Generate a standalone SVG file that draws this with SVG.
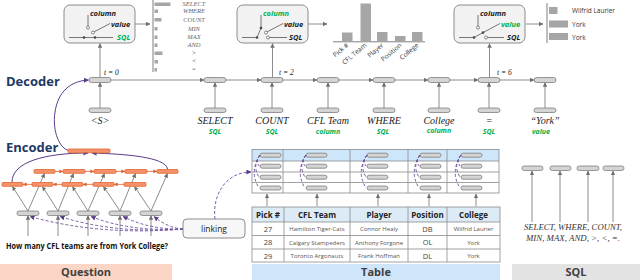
<svg xmlns="http://www.w3.org/2000/svg" width="640" height="280" viewBox="0 0 640 280">
<defs>
<marker id="ag" viewBox="0 0 6 6" refX="5.5" refY="3" markerWidth="4.5" markerHeight="4.5" markerUnits="userSpaceOnUse" orient="auto"><path d="M0,0 L6,3 L0,6 z" fill="#6f6f6f"/></marker>
<marker id="ap" viewBox="0 0 6 6" refX="5.5" refY="3" markerWidth="5" markerHeight="5" markerUnits="userSpaceOnUse" orient="auto"><path d="M0,0 L6,3 L0,6 z" fill="#5a3d8a"/></marker>
<marker id="ao" viewBox="0 0 6 6" refX="5.5" refY="3" markerWidth="4" markerHeight="4" markerUnits="userSpaceOnUse" orient="auto"><path d="M0,0 L6,3 L0,6 z" fill="#e0642e"/></marker>
</defs>
<style>
.cell{fill:#d4d4d4;stroke:#7f7f7f;stroke-width:0.8}
.oc{fill:#f5926b;stroke:#e0642e;stroke-width:0.8}
.ln{stroke:#7f7f7f;stroke-width:0.9;fill:none}
.la{stroke:#7f7f7f;stroke-width:0.9;fill:none;marker-end:url(#ag)}
.ol{stroke:#e0642e;stroke-width:0.8;fill:none;marker-end:url(#ao)}
.pc{stroke:#5a3d8a;stroke-width:1;fill:none;marker-end:url(#ap)}
.pd{stroke:#6a4c9c;stroke-width:0.9;fill:none;stroke-dasharray:3 2}
.pda{stroke:#6a4c9c;stroke-width:0.9;fill:none;stroke-dasharray:3 2;marker-end:url(#ap)}
.box{fill:#f2f2f2;stroke:#7f7f7f;stroke-width:0.9}
.sw{stroke:#555;stroke-width:0.8;fill:none}
.oh{fill:#fff;stroke:#555;stroke-width:0.7}
.dt{fill:#444}
.bar{fill:#a6a6a6}
.swt{font-family:'Open Sans','Liberation Sans',sans-serif;font-weight:bold;font-style:italic;font-size:7.5px;fill:#222}
.grn{fill:#00b050}
.ms{font-family:'Liberation Serif',serif;font-style:italic;font-size:6.5px;fill:#666}
.tk{font-family:'Liberation Serif',serif;font-style:italic;font-size:10px;fill:#222;text-anchor:middle}
.tl{font-family:'Open Sans','Liberation Sans',sans-serif;font-weight:bold;font-style:italic;font-size:7px;fill:#00b050;text-anchor:middle}
.tt{font-family:'Liberation Serif',serif;font-style:italic;font-size:7.5px;fill:#222}
.hd{font-family:'Open Sans','Liberation Sans',sans-serif;font-weight:bold;font-size:13px;fill:#203864}
.sm{font-family:'Open Sans','Liberation Sans',sans-serif;font-size:6.5px;fill:#333}
.th{font-family:'Open Sans','Liberation Sans',sans-serif;font-weight:bold;font-size:8px;fill:#222;text-anchor:middle}
.td{font-family:'Open Sans','Liberation Sans',sans-serif;font-size:6px;fill:#555;text-anchor:middle}
.tn{font-family:'Open Sans','Liberation Sans',sans-serif;font-size:7.5px;fill:#444;text-anchor:middle}
.tbl{stroke:#8a8a8a;stroke-width:0.8;fill:none}
.bl{font-family:'Open Sans','Liberation Sans',sans-serif;font-weight:bold;font-size:11px;fill:#404040;text-anchor:middle}
</style>
<rect width="640" height="280" fill="#fff"/>

<!-- section labels -->
<text class="hd" x="6" y="86">Decoder</text>
<text class="hd" x="6" y="152">Encoder</text>

<!-- bottom bars -->
<g id="question-bar"><rect x="0" y="264" width="172" height="16" fill="#fbd5c5"/><text class="bl" x="86" y="276">Question</text></g>
<g id="table-bar"><rect x="252" y="264" width="248" height="16" fill="#cfe5fa"/><text class="bl" x="376" y="276">Table</text></g>
<g id="sql-bar"><rect x="512" y="264" width="128" height="16" fill="#e3e3e3"/><text class="bl" x="576" y="276">SQL</text></g>

<!-- connectors -->
<g id="connectors">
  <!-- decoder chain -->
  <line class="la" x1="111" y1="80" x2="204" y2="80"/>
  <line class="la" x1="226" y1="80" x2="261" y2="80"/>
  <line class="la" x1="283" y1="80" x2="317" y2="80"/>
  <line class="la" x1="339" y1="80" x2="373" y2="80"/>
  <line class="la" x1="395" y1="80" x2="428" y2="80"/>
  <line class="la" x1="450" y1="80" x2="478" y2="80"/>
  <line class="la" x1="500" y1="80" x2="534" y2="80"/>
  <!-- inputs up -->
  <line class="la" x1="100" y1="108" x2="100" y2="82.5"/>
  <line class="la" x1="215" y1="108" x2="215" y2="82.5"/>
  <line class="la" x1="272" y1="108" x2="272" y2="82.5"/>
  <line class="la" x1="328" y1="108" x2="328" y2="82.5"/>
  <line class="la" x1="384" y1="108" x2="384" y2="82.5"/>
  <line class="la" x1="439" y1="108" x2="439" y2="82.5"/>
  <line class="la" x1="489" y1="108" x2="489" y2="82.5"/>
  <line class="la" x1="545" y1="108" x2="545" y2="82.5"/>
  <!-- to switch boxes -->
  <line class="la" x1="100" y1="77.5" x2="100" y2="43.5"/>
  <line class="la" x1="272.5" y1="77.5" x2="272.5" y2="43.5"/>
  <line class="la" x1="489.5" y1="77.5" x2="489.5" y2="43.5"/>
  <line class="la" x1="135" y1="24" x2="150" y2="24"/>
  <line class="la" x1="308" y1="24" x2="327" y2="24"/>
  <line class="la" x1="526" y1="24" x2="543" y2="24"/>

  <!-- encoder to decoder -->
  <path class="pc" d="M69,150.5 C60,149 52,132 55,112 C58,92 70,81 88.5,80"/>
  <path class="pc" d="M12,182 C12,162 45,153 88,153"/>
  <path class="pc" d="M167.5,169 C166,157 125,154 92,153"/>

  <!-- embedding to BiLSTM -->
  <line class="la" x1="28" y1="211" x2="44.5" y2="173.5"/>
  <line class="la" x1="58" y1="211" x2="73.5" y2="173.5"/>
  <line class="la" x1="88" y1="211" x2="104.5" y2="173.5"/>
  <line class="la" x1="120" y1="211" x2="135.5" y2="173.5"/>
  <line class="la" x1="151" y1="211" x2="167.5" y2="173.5"/>
  <line class="la" x1="28" y1="211" x2="12.5" y2="186.5"/>
  <line class="la" x1="58" y1="211" x2="42.5" y2="186.5"/>
  <line class="la" x1="88" y1="211" x2="72.5" y2="186.5"/>
  <line class="la" x1="120" y1="211" x2="103.5" y2="186.5"/>
  <line class="la" x1="151" y1="211" x2="134.5" y2="186.5"/>
  <!-- words up -->
  <line class="la" x1="28" y1="236" x2="28" y2="215.5"/>
  <line class="la" x1="58" y1="236" x2="58" y2="215.5"/>
  <line class="la" x1="88" y1="236" x2="88" y2="215.5"/>
  <line class="la" x1="120" y1="236" x2="120" y2="215.5"/>
  <line class="la" x1="151" y1="236" x2="151" y2="215.5"/>

  <!-- linking -->
  <path class="pda" d="M183,229 Q100,236 30,216.5"/>
  <path class="pda" d="M183,229 Q115,234 60,216.5"/>
  <path class="pda" d="M183,229 Q130,232 91,216.5"/>
  <path class="pda" d="M183,229 Q150,230 123,216.5"/>
  <path class="pda" d="M183,229 Q168,228 154,216.5"/>
  <path class="pda" d="M215,219 C212,195 226,172 251,172"/>

  <!-- table to schema -->
  <line class="la" x1="267" y1="206" x2="267" y2="194"/>
  <line class="la" x1="317" y1="206" x2="317" y2="194"/>
  <line class="la" x1="378" y1="206" x2="378" y2="194"/>
  <line class="la" x1="429" y1="206" x2="429" y2="194"/>
  <line class="la" x1="476" y1="206" x2="476" y2="194"/>

  <!-- SQL up -->
  <line class="la" x1="532" y1="222" x2="532" y2="171"/>
  <line class="la" x1="560" y1="222" x2="560" y2="171"/>
  <line class="la" x1="588" y1="222" x2="588" y2="171"/>
  <line class="la" x1="613" y1="222" x2="613" y2="171"/>
</g>

<!-- decoder cells -->
<g id="decoder">
  <rect class="cell" x="89" y="77.5" width="22" height="5" rx="2.5"/>
  <rect class="cell" x="204" y="77.5" width="22" height="5" rx="2.5"/>
  <rect class="cell" x="261" y="77.5" width="22" height="5" rx="2.5"/>
  <rect class="cell" x="317" y="77.5" width="22" height="5" rx="2.5"/>
  <rect class="cell" x="373" y="77.5" width="22" height="5" rx="2.5"/>
  <rect class="cell" x="428" y="77.5" width="22" height="5" rx="2.5"/>
  <rect class="cell" x="478" y="77.5" width="22" height="5" rx="2.5"/>
  <rect class="cell" x="534" y="77.5" width="22" height="5" rx="2.5"/>
  <text class="tt" x="104" y="75">t = 0</text>
  <text class="tt" x="279" y="75">t = 2</text>
  <text class="tt" x="497" y="75">t = 6</text>
</g>

<!-- decoder inputs -->
<g id="dec-inputs">
  <rect class="cell" x="89" y="108" width="22" height="4.5" rx="2.2"/>
  <rect class="cell" x="204" y="108" width="22" height="4.5" rx="2.2"/>
  <rect class="cell" x="261" y="108" width="22" height="4.5" rx="2.2"/>
  <rect class="cell" x="317" y="108" width="22" height="4.5" rx="2.2"/>
  <rect class="cell" x="373" y="108" width="22" height="4.5" rx="2.2"/>
  <rect class="cell" x="428" y="108" width="22" height="4.5" rx="2.2"/>
  <rect class="cell" x="478" y="108" width="22" height="4.5" rx="2.2"/>
  <rect class="cell" x="534" y="108" width="22" height="4.5" rx="2.2"/>
  <text class="tk" x="100" y="124">&lt;S&gt;</text>
  <text class="tk" x="215" y="124">SELECT</text><text class="tl" x="215" y="134">SQL</text>
  <text class="tk" x="272" y="124">COUNT</text><text class="tl" x="272" y="134">SQL</text>
  <text class="tk" x="328" y="124">CFL Team</text><text class="tl" x="328" y="134">column</text>
  <text class="tk" x="384" y="124">WHERE</text><text class="tl" x="383" y="134">SQL</text>
  <text class="tk" x="439" y="124">College</text><text class="tl" x="439" y="133">column</text>
  <text class="tk" x="489" y="124">=</text><text class="tl" x="489" y="134">SQL</text>
  <text class="tk" x="545" y="124">“York”</text><text class="tl" x="541" y="134">value</text>
</g>

<!-- switch box 1 (SQL) -->
<g id="switch1">
  <rect class="box" x="64" y="5" width="71" height="38" rx="6"/>
  <line class="sw" x1="69" y1="37.5" x2="113" y2="37.5"/>
  <circle class="dt" cx="84" cy="37.5" r="1.3"/><circle class="dt" cx="95" cy="37.5" r="1.3"/>
  <line class="sw" x1="88" y1="15" x2="88" y2="26"/><circle class="oh" cx="88" cy="27.6" r="1.5"/>
  <circle class="oh" cx="93" cy="32.5" r="1.5"/><line class="sw" x1="94.3" y1="31.8" x2="110" y2="23.5"/>
  <text class="swt" x="90" y="16">column</text>
  <text class="swt" x="111" y="27">value</text>
  <text class="swt grn" x="117" y="40">SQL</text>
</g>

<!-- switch box 2 (column) -->
<g id="switch2">
  <rect class="box" x="237" y="5" width="71" height="38" rx="6"/>
  <line class="sw" x1="242" y1="37.5" x2="257" y2="37.5"/>
  <circle class="dt" cx="257" cy="37.5" r="1.3"/>
  <line class="sw" x1="257" y1="37.5" x2="261" y2="28"/>
  <line class="sw" x1="261" y1="15" x2="261" y2="28"/><circle class="dt" cx="261" cy="28" r="1.3"/>
  <circle class="oh" cx="266" cy="32.5" r="1.5"/><line class="sw" x1="267.3" y1="31.8" x2="283" y2="23.5"/>
  <circle class="oh" cx="268" cy="37.5" r="1.5"/><line class="sw" x1="269.5" y1="37.5" x2="287" y2="37.5"/>
  <text class="swt grn" x="263" y="16">column</text>
  <text class="swt" x="284" y="27">value</text>
  <text class="swt" x="289" y="40">SQL</text>
</g>

<!-- switch box 3 (value) -->
<g id="switch3">
  <rect class="box" x="454" y="5" width="71" height="38" rx="6"/>
  <line class="sw" x1="459" y1="37.5" x2="474" y2="37.5"/>
  <circle class="dt" cx="474" cy="37.5" r="1.3"/>
  <line class="sw" x1="474" y1="37.5" x2="500" y2="23.5"/>
  <circle class="dt" cx="483" cy="32.6" r="1.3"/>
  <line class="sw" x1="478" y1="15" x2="478" y2="26"/><circle class="oh" cx="478" cy="27.6" r="1.5"/>
  <circle class="oh" cx="486" cy="37.5" r="1.5"/><line class="sw" x1="487.5" y1="37.5" x2="504" y2="37.5"/>
  <text class="swt" x="480" y="16">column</text>
  <text class="swt grn" x="501" y="27">value</text>
  <text class="swt" x="507" y="40">SQL</text>
</g>

<!-- chart 1: SQL keywords -->
<g id="chart-sql">
  <line x1="153" y1="0" x2="153" y2="72" stroke="#7f7f7f" stroke-width="1"/>
  <rect class="bar" x="154.5" y="2.5" width="16" height="3.5"/>
  <rect class="bar" x="154.5" y="9.5" width="3.5" height="3.5"/>
  <rect class="bar" x="154.5" y="18" width="7" height="3.5"/>
  <rect class="bar" x="154.5" y="27" width="3" height="3.5"/>
  <rect class="bar" x="154.5" y="35.5" width="3" height="3.5"/>
  <rect class="bar" x="154.5" y="43.5" width="3" height="3.5"/>
  <rect class="bar" x="154.5" y="51.5" width="8" height="3.5"/>
  <rect class="bar" x="154.5" y="60" width="3.5" height="3.5"/>
  <rect class="bar" x="154.5" y="68" width="2.5" height="3.5"/>
  <g text-anchor="middle">
  <text class="ms" x="194" y="6">SELECT</text>
  <text class="ms" x="194" y="13">WHERE</text>
  <text class="ms" x="194" y="22">COUNT</text>
  <text class="ms" x="194" y="31">MIN</text>
  <text class="ms" x="194" y="39">MAX</text>
  <text class="ms" x="194" y="47">AND</text>
  <text class="ms" x="194" y="55">&gt;</text>
  <text class="ms" x="194" y="63">&lt;</text>
  <text class="ms" x="194" y="71">=</text>
  </g>
</g>

<!-- chart 2: columns -->
<g id="chart-col">
  <line x1="333" y1="41.8" x2="425" y2="41.8" stroke="#7f7f7f" stroke-width="1"/>
  <rect class="bar" x="342" y="32.5" width="10.5" height="8.5"/>
  <rect class="bar" x="360.5" y="3.5" width="10.5" height="37.5"/>
  <rect class="bar" x="377" y="32" width="10.5" height="9"/>
  <rect class="bar" x="395" y="36" width="10.5" height="5"/>
  <rect class="bar" x="412" y="32" width="10.5" height="9"/>
  <g text-anchor="end">
  <text class="sm" transform="translate(349,46) rotate(-40)">Pick #</text>
  <text class="sm" transform="translate(367,46) rotate(-40)">CFL Team</text>
  <text class="sm" transform="translate(384,46) rotate(-40)">Player</text>
  <text class="sm" transform="translate(402,46) rotate(-40)">Position</text>
  <text class="sm" transform="translate(419,46) rotate(-40)">College</text>
  </g>
</g>

<!-- chart 3: values -->
<g id="chart-val">
  <line x1="547" y1="3" x2="547" y2="43" stroke="#7f7f7f" stroke-width="1"/>
  <rect class="bar" x="549" y="7" width="8.5" height="7"/>
  <rect class="bar" x="549" y="20.5" width="19" height="7"/>
  <rect class="bar" x="549" y="33" width="19" height="7"/>
  <text class="sm" x="572" y="13" font-size="7">Wilfrid Laurier</text>
  <text class="sm" x="572" y="27" font-size="7">York</text>
  <text class="sm" x="572" y="40" font-size="7">York</text>
</g>

<!-- encoder -->
<g id="encoder-top"><rect class="oc" x="68" y="149" width="42" height="3.8" rx="1"/></g>
<g id="encoder-bilstm">
  <rect class="oc" x="34" y="169.5" width="21" height="3.8" rx="1"/>
  <rect class="oc" x="63" y="169.5" width="22" height="3.8" rx="1"/>
  <rect class="oc" x="94" y="169.5" width="22" height="3.8" rx="1"/>
  <rect class="oc" x="125" y="169.5" width="22" height="3.8" rx="1"/>
  <rect class="oc" x="157" y="169.5" width="21" height="3.8" rx="1"/>
  <line class="ol" x1="55" y1="171.4" x2="63" y2="171.4"/>
  <line class="ol" x1="85" y1="171.4" x2="94" y2="171.4"/>
  <line class="ol" x1="116" y1="171.4" x2="125" y2="171.4"/>
  <line class="ol" x1="147" y1="171.4" x2="157" y2="171.4"/>
  <rect class="oc" x="2" y="182.5" width="21" height="3.8" rx="1"/>
  <rect class="oc" x="32" y="182.5" width="21" height="3.8" rx="1"/>
  <rect class="oc" x="62" y="182.5" width="21" height="3.8" rx="1"/>
  <rect class="oc" x="93" y="182.5" width="21" height="3.8" rx="1"/>
  <rect class="oc" x="124" y="182.5" width="22" height="3.8" rx="1"/>
  <line class="ol" x1="32" y1="184.4" x2="23" y2="184.4"/>
  <line class="ol" x1="62" y1="184.4" x2="53" y2="184.4"/>
  <line class="ol" x1="93" y1="184.4" x2="83" y2="184.4"/>
  <line class="ol" x1="124" y1="184.4" x2="114" y2="184.4"/>
</g>
<g id="embeddings">
  <rect class="cell" x="17" y="211" width="22" height="4.5" rx="2.2"/>
  <rect class="cell" x="47" y="211" width="22" height="4.5" rx="2.2"/>
  <rect class="cell" x="77" y="211" width="22" height="4.5" rx="2.2"/>
  <rect class="cell" x="109" y="211" width="22" height="4.5" rx="2.2"/>
  <rect class="cell" x="140" y="211" width="22" height="4.5" rx="2.2"/>
</g>
<g id="question">
  <text x="6" y="249" font-family="'Open Sans','Liberation Sans',sans-serif" font-weight="bold" font-size="8" fill="#111" textLength="162" lengthAdjust="spacingAndGlyphs">How many CFL teams are from York College?</text>
</g>

<!-- linking -->
<g id="linking">
  <rect x="183" y="219" width="62" height="19" rx="4" fill="#f7f7f7" stroke="#7f7f7f" stroke-width="0.9"/>
  <text x="214" y="232" text-anchor="middle" font-family="'Open Sans','Liberation Sans',sans-serif" font-size="8.5" fill="#222">linking</text>
</g>

<!-- schema encoder table -->
<g id="schema-table">
  <rect x="252" y="149.5" width="247" height="11.5" fill="#cde6fa"/>
  <rect class="tbl" x="252" y="149.5" width="247" height="43.5"/>
  <line class="tbl" x1="252" y1="161" x2="499" y2="161"/>
  <line class="tbl" x1="252" y1="172" x2="499" y2="172"/>
  <line class="tbl" x1="252" y1="182.5" x2="499" y2="182.5"/>
  <line class="tbl" x1="283" y1="149.5" x2="283" y2="193"/>
  <line class="tbl" x1="350" y1="149.5" x2="350" y2="193"/>
  <line class="tbl" x1="408" y1="149.5" x2="408" y2="193"/>
  <line class="tbl" x1="447" y1="149.5" x2="447" y2="193"/>
  <g>
  <rect class="cell" x="260" y="153.2" width="21" height="4" rx="2"/><rect class="cell" x="260" y="164.2" width="21" height="4" rx="2"/><rect class="cell" x="260" y="175.2" width="21" height="4" rx="2"/><rect class="cell" x="260" y="186" width="21" height="4" rx="2"/>
  <rect class="cell" x="306" y="153.2" width="21" height="4" rx="2"/><rect class="cell" x="306" y="164.2" width="21" height="4" rx="2"/><rect class="cell" x="306" y="175.2" width="21" height="4" rx="2"/><rect class="cell" x="306" y="186" width="21" height="4" rx="2"/>
  <rect class="cell" x="367" y="153.2" width="21" height="4" rx="2"/><rect class="cell" x="367" y="164.2" width="21" height="4" rx="2"/><rect class="cell" x="367" y="175.2" width="21" height="4" rx="2"/><rect class="cell" x="367" y="186" width="21" height="4" rx="2"/>
  <rect class="cell" x="420" y="153.2" width="21" height="4" rx="2"/><rect class="cell" x="420" y="164.2" width="21" height="4" rx="2"/><rect class="cell" x="420" y="175.2" width="21" height="4" rx="2"/><rect class="cell" x="420" y="186" width="21" height="4" rx="2"/>
  <rect class="cell" x="461" y="153.2" width="21" height="4" rx="2"/><rect class="cell" x="461" y="164.2" width="21" height="4" rx="2"/><rect class="cell" x="461" y="175.2" width="21" height="4" rx="2"/><rect class="cell" x="461" y="186" width="21" height="4" rx="2"/>
  </g>
  <g class="pd">
  <path d="M260,155 Q255,160 259,166 M260,155 Q252,166 259,177 M260,155 Q249,172 259,188"/>
  <path d="M306,155 Q301,160 305,166 M306,155 Q298,166 305,177 M306,155 Q295,172 305,188"/>
  <path d="M367,155 Q362,160 366,166 M367,155 Q359,166 366,177 M367,155 Q356,172 366,188"/>
  <path d="M420,155 Q415,160 419,166 M420,155 Q412,166 419,177 M420,155 Q409,172 419,188"/>
  <path d="M461,155 Q456,160 460,166 M461,155 Q453,166 460,177 M461,155 Q450,172 460,188"/>
  </g>
</g>

<!-- data table -->
<g id="data-table">
  <rect x="252" y="207" width="248" height="15" fill="#ddebf7"/>
  <rect class="tbl" x="252" y="207" width="248" height="55"/>
  <line class="tbl" x1="252" y1="222" x2="500" y2="222"/>
  <line class="tbl" x1="252" y1="235.5" x2="500" y2="235.5"/>
  <line class="tbl" x1="252" y1="249" x2="500" y2="249"/>
  <line class="tbl" x1="284" y1="207" x2="284" y2="262"/>
  <line class="tbl" x1="350" y1="207" x2="350" y2="262"/>
  <line class="tbl" x1="408" y1="207" x2="408" y2="262"/>
  <line class="tbl" x1="447" y1="207" x2="447" y2="262"/>
  <text class="th" x="268" y="217.5">Pick #</text>
  <text class="th" x="317" y="217.5">CFL Team</text>
  <text class="th" x="379" y="217.5">Player</text>
  <text class="th" x="427.5" y="217.5">Position</text>
  <text class="th" x="473.5" y="217.5">College</text>
  <text class="tn" x="268" y="231.5">27</text><text class="td" x="317" y="231">Hamilton Tiger-Cats</text><text class="td" x="379" y="231">Connor Healy</text><text class="tn" x="427.5" y="231.5">DB</text><text class="td" x="473.5" y="231">Wilfrid Laurier</text>
  <text class="tn" x="268" y="245">28</text><text class="td" x="317" y="244.5">Calgary Stampeders</text><text class="td" x="379" y="244.5">Anthony Forgone</text><text class="tn" x="427.5" y="245">OL</text><text class="td" x="473.5" y="244.5">York</text>
  <text class="tn" x="268" y="258.5">29</text><text class="td" x="317" y="258">Toronto Argonauts</text><text class="td" x="379" y="258">Frank Hoffman</text><text class="tn" x="427.5" y="258.5">DL</text><text class="td" x="473.5" y="258">York</text>
</g>

<!-- SQL encoder -->
<g id="sql-encoder">
  <rect class="cell" x="522" y="166" width="21" height="4.5" rx="2.2"/>
  <rect class="cell" x="550" y="166" width="21" height="4.5" rx="2.2"/>
  <rect class="cell" x="577" y="166" width="22" height="4.5" rx="2.2"/>
  <rect class="cell" x="603" y="166" width="21" height="4.5" rx="2.2"/>
  <text x="573" y="230" text-anchor="middle" font-family="'Liberation Serif',serif" font-style="italic" font-size="7.5" fill="#333" textLength="98" lengthAdjust="spacingAndGlyphs">SELECT, WHERE, COUNT,</text>
  <text x="573" y="240.5" text-anchor="middle" font-family="'Liberation Serif',serif" font-style="italic" font-size="7.5" fill="#333" textLength="94" lengthAdjust="spacingAndGlyphs">MIN, MAX, AND, &gt;, &lt;, =.</text>
</g>
</svg>
